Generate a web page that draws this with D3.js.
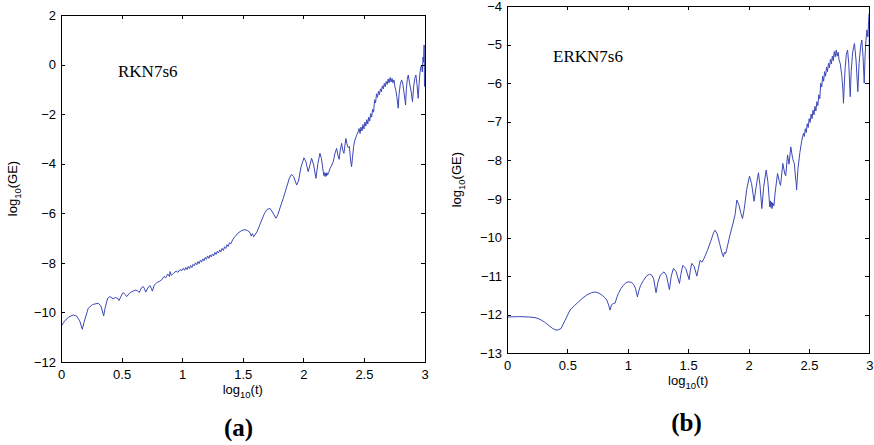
<!DOCTYPE html>
<html>
<head>
<meta charset="utf-8">
<script src="https://cdn.jsdelivr.net/npm/d3@7"></script>
<style>
  html, body { margin: 0; padding: 0; background: #fff; }
  svg { display: block; }
  .tick text { font-family: "Liberation Sans", Arial, Helvetica, sans-serif; font-size: 13px; fill: #000; }
  .axis path, .axis line { stroke: #000; stroke-width: 1; shape-rendering: crispEdges; }
</style>
</head>
<body>
<svg id="chart" width="874" height="445"></svg>
<script>
// x ticks (log10 t), shared by both panels
const xTicks = [0, 0.5, 1, 1.5, 2, 2.5, 3];
const yTicksA = [-12, -10, -8, -6, -4, -2, 0, 2];
const yTicksB = [-13, -12, -11, -10, -9, -8, -7, -6, -5, -4];
const methodNames = ["RKN7s6", "ERKN7s6"];
const panelTags = ["(a)", "(b)"];

// global error history, [log10(t), log10(GE)] — RKN7s6
const rknCurve = [
  [0.000,-10.57],[0.030,-10.35],[0.060,-10.20],[0.100,-10.10],[0.130,-10.15],[0.155,-10.35],
  [0.176,-10.68],[0.190,-10.40],[0.225,-9.83],[0.260,-9.68],[0.308,-9.63],[0.330,-9.75],
  [0.352,-10.14],[0.365,-9.80],[0.385,-9.43],[0.404,-9.36],[0.430,-9.45],[0.450,-9.40],
  [0.465,-9.42],[0.479,-9.52],[0.500,-9.30],[0.514,-9.20],[0.530,-9.28],[0.542,-9.36],
  [0.570,-9.20],[0.611,-9.10],[0.630,-9.12],[0.645,-9.20],[0.665,-9.00],[0.679,-8.96],
  [0.690,-9.05],[0.699,-9.18],[0.720,-8.98],[0.735,-8.92],[0.745,-9.02],[0.754,-9.14],
  [0.770,-8.90],[0.790,-8.80],[0.810,-8.75],[0.830,-8.69],[0.850,-8.55],[0.865,-8.60],
  [0.880,-8.45],[0.895,-8.55],[0.900,-8.35],[0.910,-8.50],[0.930,-8.42],[0.950,-8.33],
  [0.965,-8.38],[0.980,-8.28],[1.000,-8.30],
  [1.01,-8.22],[1.02,-8.30],[1.03,-8.19],[1.04,-8.27],[1.05,-8.15],[1.06,-8.23],[1.07,-8.11],
  [1.08,-8.19],[1.09,-8.06],[1.10,-8.12],[1.11,-8.00],[1.12,-8.08],[1.13,-7.95],[1.14,-8.03],
  [1.15,-7.90],[1.16,-7.97],[1.17,-7.84],[1.18,-7.92],[1.19,-7.78],[1.20,-7.86],[1.21,-7.72],
  [1.22,-7.82],[1.23,-7.68],[1.24,-7.76],[1.25,-7.64],[1.26,-7.72],[1.27,-7.58],[1.28,-7.66],
  [1.29,-7.53],[1.30,-7.60],[1.31,-7.48],[1.32,-7.55],[1.33,-7.42],[1.34,-7.50],[1.35,-7.35],
  [1.36,-7.42],[1.37,-7.27],[1.38,-7.34],[1.39,-7.19],[1.40,-7.24],[1.42,-7.04],[1.436,-6.94],
  [1.46,-6.80],[1.49,-6.70],[1.518,-6.66],[1.54,-6.70],[1.56,-6.78],[1.57,-6.92],[1.58,-6.82],
  [1.59,-6.95],[1.60,-6.88],[1.62,-6.72],[1.65,-6.35],[1.68,-6.00],[1.70,-5.85],[1.724,-5.80],
  [1.745,-5.95],[1.774,-6.20],[1.79,-6.05],[1.81,-5.75],[1.834,-5.40],[1.862,-4.95],[1.885,-4.58],
  [1.903,-4.43],[1.92,-4.52],[1.945,-4.86],[1.96,-4.70],[1.98,-4.15],[2.005,-3.76],[2.02,-3.90],
  [2.04,-4.32],[2.055,-4.05],[2.068,-3.78],[2.085,-4.05],[2.104,-4.59],[2.12,-4.00],[2.137,-3.58],
  [2.15,-3.80],[2.164,-4.32],[2.17,-4.48],[2.175,-4.36],[2.18,-4.52],[2.185,-4.38],[2.19,-4.50],
  [2.195,-4.36],[2.20,-4.46],[2.21,-4.35],[2.22,-4.20],[2.23,-4.10],[2.247,-3.92],[2.26,-3.60],
  [2.275,-3.38],[2.285,-3.65],[2.295,-3.82],[2.305,-3.45],[2.316,-3.18],[2.325,-3.45],[2.335,-3.58],
  [2.345,-3.20],[2.351,-2.98],[2.36,-3.20],[2.37,-3.35],[2.38,-3.30],[2.39,-3.85],[2.398,-4.12],
  [2.405,-3.80],[2.415,-3.30],[2.425,-3.05],[2.44,-2.85],[2.453,-2.71],
  [2.460,-2.58],[2.468,-2.78],[2.476,-2.52],[2.484,-2.68],[2.492,-2.42],[2.500,-2.60],[2.508,-2.32],
  [2.516,-2.48],[2.524,-2.22],[2.532,-2.40],[2.540,-2.12],[2.548,-2.28],[2.556,-1.98],[2.564,-2.12],
  [2.572,-1.80],[2.580,-1.92],[2.588,-1.42],[2.596,-1.55],[2.604,-1.18],[2.612,-1.32],[2.620,-1.08],
  [2.628,-1.22],[2.636,-0.98],[2.644,-1.10],[2.652,-0.86],[2.660,-0.98],[2.668,-0.76],[2.676,-0.90],
  [2.684,-0.68],[2.692,-0.80],[2.700,-0.58],[2.708,-0.74],[2.716,-0.52],[2.724,-0.70],[2.732,-0.56],
  [2.740,-0.74],[2.748,-0.62],[2.756,-0.90],[2.764,-1.05],[2.772,-1.30],[2.783,-1.76],[2.790,-1.20],
  [2.800,-0.80],[2.811,-0.62],[2.820,-0.75],[2.830,-1.10],[2.844,-1.63],[2.850,-1.00],[2.858,-0.60],
  [2.866,-0.42],[2.875,-0.70],[2.890,-1.10],[2.901,-1.50],[2.910,-0.90],[2.920,-0.55],[2.929,-0.42],
  [2.938,-0.80],[2.948,-1.36],[2.955,-0.80],[2.962,-0.35],[2.970,-0.10],[2.976,-0.02],[2.982,-0.30],
  [2.988,0.30],[2.993,0.10],[2.997,0.79],[3.000,-0.89]
];

// global error history, [log10(t), log10(GE)] — ERKN7s6
const erknCurve = [
  [0.000,-12.06],[0.100,-12.05],[0.190,-12.06],[0.240,-12.08],[0.273,-12.12],[0.310,-12.19],
  [0.342,-12.27],[0.375,-12.35],[0.406,-12.40],[0.425,-12.39],[0.447,-12.36],[0.480,-12.15],
  [0.522,-11.88],[0.560,-11.76],[0.591,-11.67],[0.630,-11.56],[0.660,-11.49],[0.700,-11.43],
  [0.729,-11.41],[0.760,-11.44],[0.785,-11.49],[0.810,-11.56],[0.826,-11.62],[0.842,-11.75],
  [0.853,-11.88],[0.866,-11.74],[0.881,-11.71],[0.895,-11.70],[0.910,-11.55],[0.922,-11.45],
  [0.944,-11.32],[0.964,-11.24],[0.985,-11.17],[1.005,-11.15],[1.030,-11.16],[1.050,-11.22],
  [1.065,-11.33],[1.080,-11.54],[1.090,-11.40],[1.105,-11.25],[1.130,-11.11],[1.155,-11.00],
  [1.179,-10.95],[1.200,-10.98],[1.215,-11.08],[1.234,-11.43],[1.250,-11.15],[1.270,-10.97],
  [1.300,-10.89],[1.320,-10.98],[1.345,-11.35],[1.360,-11.00],[1.378,-10.80],[1.400,-10.88],
  [1.428,-11.19],[1.440,-10.95],[1.456,-10.72],[1.480,-10.80],[1.508,-11.09],[1.518,-10.85],
  [1.530,-10.67],[1.550,-10.75],[1.572,-11.00],[1.585,-10.80],[1.599,-10.59],[1.615,-10.64],
  [1.632,-10.54],[1.660,-10.33],[1.690,-10.07],[1.710,-9.88],[1.723,-9.81],[1.740,-9.90],
  [1.760,-10.15],[1.780,-10.40],[1.792,-10.50],[1.800,-10.38],[1.810,-10.42],[1.820,-10.30],
  [1.845,-9.95],[1.870,-9.65],[1.889,-9.40],[1.903,-9.03],[1.920,-9.15],[1.935,-9.35],
  [1.950,-9.51],[1.965,-9.25],[1.985,-8.75],[2.008,-8.41],[2.025,-8.60],[2.046,-9.06],
  [2.062,-8.70],[2.082,-8.32],[2.095,-8.65],[2.110,-9.25],[2.125,-8.70],[2.146,-8.25],
  [2.160,-8.55],[2.170,-8.95],[2.175,-9.20],[2.180,-9.05],[2.185,-9.22],[2.190,-9.08],
  [2.195,-9.25],[2.200,-9.10],[2.210,-9.18],[2.220,-8.85],[2.240,-8.34],[2.255,-8.55],
  [2.265,-8.65],[2.284,-8.08],[2.300,-8.35],[2.308,-8.40],[2.323,-7.86],[2.335,-8.10],
  [2.350,-7.65],[2.365,-7.95],[2.380,-8.10],[2.390,-8.50],[2.394,-8.56],[2.398,-8.77],
  [2.402,-8.55],[2.410,-8.20],[2.425,-7.80],[2.440,-7.50],[2.455,-7.30],
  [2.462,-7.38],[2.470,-7.18],[2.478,-7.28],[2.486,-7.05],[2.494,-7.15],[2.502,-6.92],[2.510,-7.02],
  [2.518,-6.80],[2.526,-6.92],[2.534,-6.70],[2.542,-6.82],[2.550,-6.60],[2.558,-6.72],[2.566,-6.48],
  [2.574,-6.58],[2.582,-6.30],[2.590,-6.40],[2.598,-6.00],[2.606,-6.10],[2.614,-5.82],[2.622,-5.95],
  [2.630,-5.70],[2.638,-5.82],[2.646,-5.58],[2.654,-5.70],[2.662,-5.48],[2.670,-5.60],[2.678,-5.38],
  [2.686,-5.50],[2.694,-5.30],[2.702,-5.42],[2.710,-5.18],[2.718,-5.32],[2.726,-5.14],[2.734,-5.30],
  [2.742,-5.20],[2.750,-5.40],[2.760,-5.50],[2.772,-5.80],[2.782,-6.20],[2.786,-6.52],[2.792,-6.10],
  [2.800,-5.60],[2.810,-5.25],[2.820,-5.14],[2.830,-5.50],[2.842,-6.35],[2.850,-5.70],[2.862,-5.20],
  [2.877,-4.97],[2.890,-5.40],[2.905,-6.22],[2.915,-5.50],[2.928,-5.05],[2.938,-4.88],[2.948,-5.30],
  [2.958,-6.00],[2.965,-5.30],[2.972,-4.90],[2.980,-4.62],[2.988,-4.80],[2.994,-4.40],[3.000,-4.19],
  [3.000,-5.40]
];

const svg = d3.select("#chart");
const fmt = d3.format("");

const panels = [
  { box: { left: 61, right: 424.5, top: 15, bottom: 362 }, yDomain: [-12, 2], yTicks: yTicksA,
    data: rknCurve, name: methodNames[0], nameAt: [118, 77], tag: panelTags[0], tagAt: [238.5, 436],
    yLabelX: 16.5 },
  { box: { left: 507, right: 869.3, top: 6, bottom: 353.3 }, yDomain: [-13, -4], yTicks: yTicksB,
    data: erknCurve, name: methodNames[1], nameAt: [553, 62], tag: panelTags[1], tagAt: [686.5, 431],
    yLabelX: 461 }
];

panels.forEach((p, i) => {
  const b = p.box;
  const x = d3.scaleLinear().domain([0, 3]).range([b.left, b.right]);
  const y = d3.scaleLinear().domain(p.yDomain).range([b.bottom, b.top]);
  const g = svg.append("g");

  const clipId = "clip" + i;
  svg.append("clipPath").attr("id", clipId)
    .append("rect").attr("x", b.left).attr("y", b.top - 1)
    .attr("width", b.right - b.left + 1).attr("height", b.bottom - b.top + 2);

  // error curve
  g.append("path")
    .datum(p.data)
    .attr("clip-path", `url(#${clipId})`)
    .attr("fill", "none")
    .attr("stroke", "#3c48b6")
    .attr("stroke-width", 1)
    .attr("stroke-linejoin", "round")
    .attr("d", d3.line().x(d => x(d[0])).y(d => y(d[1])));

  // boxed axes, ticks pointing inward
  g.append("g").attr("class", "axis").attr("transform", `translate(0,${b.bottom})`)
    .call(d3.axisBottom(x).tickValues(xTicks).tickFormat(fmt).tickSizeInner(-4).tickSizeOuter(0).tickPadding(7.5));
  g.append("g").attr("class", "axis").attr("transform", `translate(0,${b.top})`)
    .call(d3.axisTop(x).tickValues(xTicks).tickFormat("").tickSizeInner(-4).tickSizeOuter(0));
  g.append("g").attr("class", "axis").attr("transform", `translate(${b.left},0)`)
    .call(d3.axisLeft(y).tickValues(p.yTicks).tickFormat(fmt).tickSizeInner(-4).tickSizeOuter(0).tickPadding(5));
  g.append("g").attr("class", "axis").attr("transform", `translate(${b.right},0)`)
    .call(d3.axisRight(y).tickValues(p.yTicks).tickFormat("").tickSizeInner(-4).tickSizeOuter(0));
  g.selectAll(".tick text").attr("fill", "#000");

  // x label: log10(t)
  const xl = g.append("text")
    .attr("x", (b.left + b.right) / 2).attr("y", b.bottom + 31.5)
    .attr("text-anchor", "middle")
    .attr("font-family", "'Liberation Sans', Arial, Helvetica, sans-serif")
    .attr("font-size", 13);
  xl.append("tspan").text("log");
  xl.append("tspan").attr("font-size", 9.5).attr("dy", 4).text("10");
  xl.append("tspan").attr("dy", -4).text("(t)");

  // y label: log10(GE)
  const yl = g.append("text")
    .attr("transform", `translate(${p.yLabelX},${(b.top + b.bottom) / 2}) rotate(-90)`)
    .attr("text-anchor", "middle")
    .attr("font-family", "'Liberation Sans', Arial, Helvetica, sans-serif")
    .attr("font-size", 13);
  yl.append("tspan").text("log");
  yl.append("tspan").attr("font-size", 9.5).attr("dy", 4).text("10");
  yl.append("tspan").attr("dy", -4).text("(GE)");

  // method name inside the axes
  g.append("text")
    .attr("x", p.nameAt[0]).attr("y", p.nameAt[1])
    .attr("font-family", "'Liberation Serif', 'Times New Roman', serif")
    .attr("font-size", 17)
    .text(p.name);

  // panel tag below
  g.append("text")
    .attr("x", p.tagAt[0]).attr("y", p.tagAt[1])
    .attr("text-anchor", "middle")
    .attr("font-family", "'Liberation Serif', 'Times New Roman', serif")
    .attr("font-weight", "bold")
    .attr("font-size", 25)
    .text(p.tag);
});
</script>
</body>
</html>
